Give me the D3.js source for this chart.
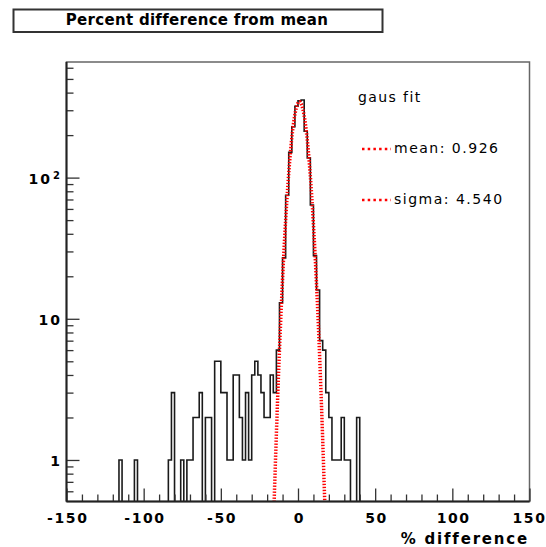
<!DOCTYPE html>
<html lang="en">
<head>
<meta charset="UTF-8"/>
<title>Percent difference from mean</title>
<script src="https://d3js.org/d3.v7.min.js"></script>
<style>
  body { margin:0; background:#fff; }
  svg { display:block; font-family:"DejaVu Sans",sans-serif; }
  .tick line { stroke:#333; stroke-width:1.3; }
</style>
</head>
<body>
<svg width="546" height="547"></svg>
<script>
// histogram: 150 bins of 2 % from -150 to 150
const xLo = -150, xHi = 150, binW = 2;
const counts = [
  0,0,0,0,0,0,0,0,0,0,
  0,0,0,0,0,0,0,1,0,0,
  0,0,1,0,0,0,0,0,0,0,
  0,0,0,1,3,0,0,1,0,1,
  1,2,2,3,0,2,2,0,5,5,
  3,3,1,1,4,4,2,1,3,1,
  4,5,4,3,2,2,4,3,6,13,
  27,75,151,229,320,350,355,213,138,64,
  28,16,7,6,3,2,1,1,1,2,
  1,1,0,0,2,0,0,0,0,0,
  0,0,0,0,0,0,0,0,0,0,
  0,0,0,0,0,0,0,0,0,0,
  0,0,0,0,0,0,0,0,0,0,
  0,0,0,0,0,0,0,0,0,0,
  0,0,0,0,0,0,0,0,0,0
];
const xMajor = [-150,-100,-50,0,50,100,150];
const yMajor = [1,10,100];
const yLabels = ['1','10','10'];
// gaus fit
const gausConst = 345, gausMean = 0.926, gausSigma = 4.54;
const legendHead = 'gaus fit';
const legendRows = ['mean: 0.926','sigma: 4.540'];
const titleText = 'Percent difference from mean';
const xTitle = '% difference';

const svg = d3.select('svg');
const fL = 66.5, fR = 529.5, fT = 62, fB = 501.5;
const x = d3.scaleLinear().domain([xLo,xHi]).range([fL,fR]);
const y = d3.scaleLog().domain([0.508,659]).range([fB,fT]);

svg.append('defs').append('clipPath').attr('id','frame')
  .append('rect').attr('x',fL).attr('y',fT).attr('width',fR-fL).attr('height',fB-fT);

// frame
svg.append('rect').attr('x',fL).attr('y',fT).attr('width',fR-fL).attr('height',fB-fT)
  .attr('fill','#fff').attr('stroke','#666').attr('stroke-width',1.5);

// histogram outline
const pts = [];
counts.forEach((c,i)=>{
  const lo = xLo + i*binW;
  pts.push([lo,c],[lo+binW,c]);
});
const histLine = d3.line()
  .x(d=>x(d[0]))
  .y(d=> d[1]>0 ? y(d[1]) : fB+3);
svg.append('path').attr('clip-path','url(#frame)')
  .attr('d',histLine(pts))
  .attr('fill','none').attr('stroke','#1a1a1a').attr('stroke-width',1.6);

// gaus curve
const gx = d3.range(gausMean-7*gausSigma, gausMean+7*gausSigma, 0.05);
const gaus = v => gausConst*Math.exp(-0.5*Math.pow((v-gausMean)/gausSigma,2));
svg.append('path').attr('clip-path','url(#frame)')
  .attr('d', d3.line().x(v=>x(v)).y(v=>Math.min(y(gaus(v)),fB+10))(gx))
  .attr('fill','none').attr('stroke','#ff0000').attr('stroke-width',3.5)
  .attr('stroke-dasharray','1.4,1.6');

// x axis ticks (inward)
const xMinor = d3.range(xLo,xHi+1,10).filter(v=>!xMajor.includes(v));
svg.append('g').attr('transform',`translate(0,${fB})`)
  .call(d3.axisBottom(x).tickValues(xMinor).tickSize(-7).tickFormat(''))
  .call(g=>g.select('.domain').remove());
const xa = svg.append('g').attr('transform',`translate(0,${fB})`)
  .call(d3.axisBottom(x).tickValues(xMajor).tickSize(-13).tickPadding(12).tickFormat(d=>String(d)))
  .call(g=>g.select('.domain').remove());
xa.selectAll('text')
  .attr('fill','#000').attr('font-size',14).attr('font-weight','bold')
  .attr('font-family','"DejaVu Sans",sans-serif')
  .style('letter-spacing','1.6px').attr('dx',d=> d===150 ? -0.5 : 0.8);

// y axis ticks (inward)
const yMinor = y.ticks().filter(v=>!yMajor.includes(v));
svg.append('g').attr('transform',`translate(${fL},0)`)
  .call(d3.axisLeft(y).tickValues(yMinor).tickSize(-7).tickFormat(''))
  .call(g=>g.select('.domain').remove());
svg.append('g').attr('transform',`translate(${fL},0)`)
  .call(d3.axisLeft(y).tickValues(yMajor).tickSize(-13).tickFormat(''))
  .call(g=>g.select('.domain').remove());

svg.append('g').selectAll('text').data(yMajor).join('text')
  .attr('x',d=> d===100 ? 52 : 62)
  .attr('y',d=>y(d)+6)
  .attr('text-anchor','end')
  .attr('font-size',14).attr('font-weight','bold')
  .style('letter-spacing','2px')
  .text((d,i)=>yLabels[i]);
svg.append('text').attr('x',53).attr('y',y(100)+1)
  .attr('font-size',10).attr('font-weight','bold').text('2');

// axis lines
svg.append('line').attr('x1',fL).attr('x2',fL).attr('y1',fT).attr('y2',fB)
  .attr('stroke','#222').attr('stroke-width',2);
svg.append('line').attr('x1',fL).attr('x2',fR).attr('y1',fB).attr('y2',fB)
  .attr('stroke','#222').attr('stroke-width',2);

// x title
svg.append('text').attr('x',529).attr('y',544).attr('text-anchor','end')
  .attr('font-size',15).attr('font-weight','bold')
  .style('letter-spacing','1.8px').text(xTitle);

// title box
svg.append('rect').attr('x',13.5).attr('y',9.5).attr('width',369).attr('height',22.5)
  .attr('fill','#fff').attr('stroke','#333').attr('stroke-width',2);
svg.append('text').attr('x',197).attr('y',25).attr('text-anchor','middle')
  .attr('font-size',15).attr('font-weight','bold')
  .style('letter-spacing','0.3px').text(titleText);

// legend
svg.append('text').attr('x',358).attr('y',102)
  .attr('font-size',14).style('letter-spacing','1.4px').text(legendHead);
const lg = svg.append('g').selectAll('g').data(legendRows).join('g')
  .attr('transform',(d,i)=>`translate(0,${i===0 ? 149 : 200})`);
lg.append('line').attr('x1',362).attr('x2',391).attr('y1',0).attr('y2',0)
  .attr('stroke','#ff0000').attr('stroke-width',2.5).attr('stroke-dasharray','2.5,3.2');
lg.append('text').attr('x',394).attr('y',3.5)
  .attr('font-size',14).style('letter-spacing','1.5px').text(d=>d);
</script>
</body>
</html>
